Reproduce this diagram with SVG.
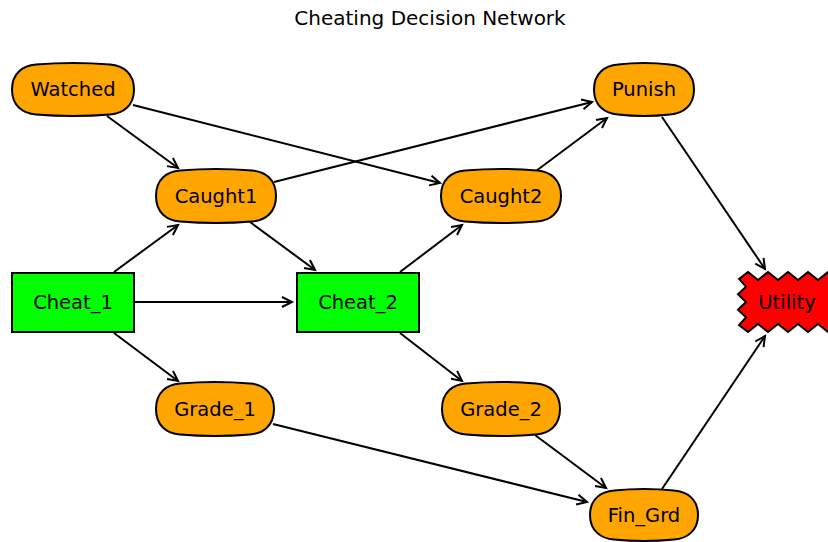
<svg xmlns="http://www.w3.org/2000/svg" width="828" height="542" viewBox="0 0 828 542">
<style>
  .lbl { font-family: "DejaVu Sans", sans-serif; font-size: 19.5px; text-anchor: middle; fill: #000; }
  .title { font-family: "DejaVu Sans", sans-serif; font-size: 20px; text-anchor: middle; fill: #000; }
  .chance { fill: #FFA500; stroke: #000; stroke-width: 2; }
  .decision { fill: #00FF00; stroke: #000; stroke-width: 2; }
  .utility { fill: #FF0000; stroke: #000; stroke-width: 2; }
  .edge { stroke: #000; stroke-width: 2; fill: none; marker-end: url(#arr); }
</style>
<defs>
  <marker id="arr" markerUnits="userSpaceOnUse" markerWidth="14" markerHeight="14" refX="11" refY="6" orient="auto">
    <path d="M1,1 L11,6 L1,11" fill="none" stroke="#000" stroke-width="2"/>
  </marker>
</defs>
<rect width="828" height="542" fill="#fff"/>
<text class="title" x="430" y="25">Cheating Decision Network</text>
<g id="connectors">
  <line class="edge" x1="107" y1="116" x2="178" y2="168"/>
  <line class="edge" x1="133" y1="105" x2="440" y2="183"/>
  <line class="edge" x1="274" y1="182" x2="592" y2="102"/>
  <line class="edge" x1="250" y1="222" x2="315" y2="270"/>
  <line class="edge" x1="114" y1="272" x2="178" y2="225"/>
  <line class="edge" x1="134" y1="302" x2="292" y2="302"/>
  <line class="edge" x1="114" y1="333" x2="178" y2="381"/>
  <line class="edge" x1="400" y1="272" x2="462" y2="225"/>
  <line class="edge" x1="400" y1="333" x2="462" y2="381"/>
  <line class="edge" x1="536" y1="171" x2="607" y2="118"/>
  <line class="edge" x1="662" y1="117" x2="765" y2="269"/>
  <line class="edge" x1="273" y1="424" x2="587" y2="502"/>
  <line class="edge" x1="535" y1="435" x2="606" y2="488"/>
  <line class="edge" x1="662" y1="489" x2="765" y2="336"/>
</g>
<g id="Watched">
  <path class="chance" d="M36,64.5 Q73,61.5 110,64.5 C123,65.5 134,73 134,89.5 C134,106 123,113.5 110,114.5 Q73,117.5 36,114.5 C23,113.5 12,106 12,89.5 C12,73 23,65.5 36,64.5Z"/>
  <text class="lbl" x="73" y="96">Watched</text>
</g>
<g id="Caught1">
  <path class="chance" d="M180,170.5 Q216,167.5 252,170.5 C265,171.5 276,179 276,196 C276,213 265,220.5 252,221.5 Q216,224.5 180,221.5 C167,220.5 156,213 156,196 C156,179 167,171.5 180,170.5Z"/>
  <text class="lbl" x="216" y="203">Caught1</text>
</g>
<g id="Caught2">
  <path class="chance" d="M465,170.5 Q501,167.5 537,170.5 C550,171.5 561,179 561,196 C561,213 550,220.5 537,221.5 Q501,224.5 465,221.5 C452,220.5 441,213 441,196 C441,179 452,171.5 465,170.5Z"/>
  <text class="lbl" x="501" y="203">Caught2</text>
</g>
<g id="Punish">
  <path class="chance" d="M618,64.5 Q644,61.5 670,64.5 C683,65.5 694,73 694,89.5 C694,106 683,113.5 670,114.5 Q644,117.5 618,114.5 C605,113.5 594,106 594,89.5 C594,73 605,65.5 618,64.5Z"/>
  <text class="lbl" x="644" y="96">Punish</text>
</g>
<g id="Cheat_1">
  <rect class="decision" x="12" y="273" width="122" height="59"/>
  <text class="lbl" x="73" y="309">Cheat_1</text>
</g>
<g id="Cheat_2">
  <rect class="decision" x="297" y="273" width="122" height="59"/>
  <text class="lbl" x="358" y="309">Cheat_2</text>
</g>
<g id="Utility">
  <path class="utility" d="M739,279 L748,272 L758,280 L768,272 L778,280 L788,272 L798,280 L808,272 L818,280 L828,272 L838,280 L838,324 L828,332 L818,324 L808,332 L798,324 L788,332 L778,324 L768,332 L758,324 L748,332 L739,325 L746,317.3 L738,309.7 L746,302 L738,294.3 L746,286.7 Z"/>
  <text class="lbl" x="787" y="309">Utility</text>
</g>
<g id="Grade_1">
  <path class="chance" d="M180,383.5 Q215,380.5 250,383.5 C263,384.5 274,392 274,409 C274,426 263,433.5 250,434.5 Q215,437.5 180,434.5 C167,433.5 156,426 156,409 C156,392 167,384.5 180,383.5Z"/>
  <text class="lbl" x="215" y="416">Grade_1</text>
</g>
<g id="Grade_2">
  <path class="chance" d="M466,383.5 Q501,380.5 536,383.5 C549,384.5 560,392 560,409 C560,426 549,433.5 536,434.5 Q501,437.5 466,434.5 C453,433.5 442,426 442,409 C442,392 453,384.5 466,383.5Z"/>
  <text class="lbl" x="501" y="416">Grade_2</text>
</g>
<g id="Fin_Grd">
  <path class="chance" d="M614,490.5 Q644,487.5 674,490.5 C687,491.5 698,499 698,515 C698,531 687,538.5 674,539.5 Q644,542.5 614,539.5 C601,538.5 590,531 590,515 C590,499 601,491.5 614,490.5Z"/>
  <text class="lbl" x="644" y="522">Fin_Grd</text>
</g>
</svg>
